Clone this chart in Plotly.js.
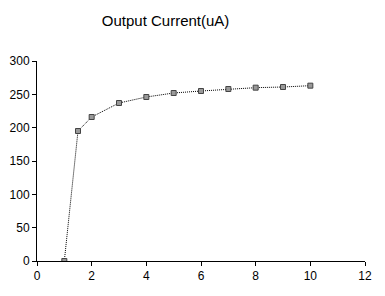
<!DOCTYPE html>
<html><head><meta charset="utf-8">
<script src="https://cdn.plot.ly/plotly-3.0.1.min.js"></script>
<style>html,body{margin:0;padding:0;background:#fff}#c{width:385px;height:296px}</style>
</head><body><div id="c"></div>
<script>
const xVals = [1, 1.5, 2, 3, 4, 5, 6, 7, 8, 9, 10];
const currentUA = [0, 195, 216, 237, 246, 252, 255, 258, 260, 261, 263];
const chartTitle = "Output Current(uA)";

Plotly.newPlot('c', [{
  x: xVals, y: currentUA, type: 'scatter', mode: 'lines+markers',
  line: {color: '#000', width: 1, dash: '1px,1px'},
  marker: {symbol: 'square', size: 5, color: '#999', line: {color: '#444', width: 1}}
}], {
  width: 385, height: 296,
  margin: {l: 37, r: 20, t: 61, b: 35},
  paper_bgcolor: '#fff', plot_bgcolor: '#fff',
  showlegend: false,
  font: {family: 'Liberation Sans, Arial, sans-serif', size: 12, color: '#000'},
  title: {text: chartTitle, x: 0.43, xanchor: 'center', y: 0.93, yanchor: 'middle', font: {size: 15}},
  xaxis: {range: [0, 12], dtick: 2, tick0: 0, showgrid: false, zeroline: false,
    showline: true, linecolor: '#000', linewidth: 1, ticks: 'outside', ticklen: 4, tickcolor: '#000'},
  yaxis: {range: [0, 300], dtick: 50, tick0: 0, showgrid: false, zeroline: false,
    showline: true, linecolor: '#000', linewidth: 1, ticks: 'outside', ticklen: 4, tickcolor: '#000'}
}, {staticPlot: true});
</script></body></html>
